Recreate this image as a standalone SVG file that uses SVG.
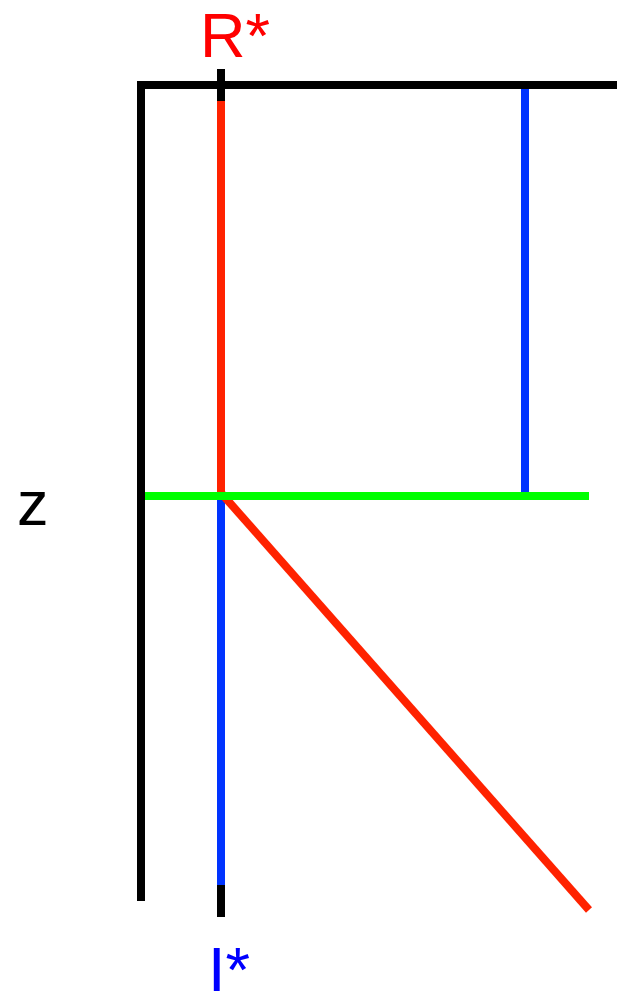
<svg xmlns="http://www.w3.org/2000/svg" width="624" height="997" viewBox="0 0 624 997">
<style>
.ln{fill:none;stroke-width:8;stroke-linecap:butt}
.t{font-family:"Liberation Sans",Arial,sans-serif;font-size:63px}
</style>
<rect width="624" height="997" fill="#fff"/>
<g id="connectors">
<polyline class="ln" stroke="#000" points="141,901 141,85 617,85"/>
<line class="ln" stroke="#000" x1="221" y1="69" x2="221" y2="102"/>
<line class="ln" stroke="#ff2200" x1="221" y1="101" x2="221" y2="493"/>
<line class="ln" stroke="#0033ff" x1="525" y1="89" x2="525" y2="493"/>
<line class="ln" stroke="#0033ff" x1="221" y1="497" x2="221" y2="886"/>
<line class="ln" stroke="#000" x1="221" y1="885" x2="221" y2="917"/>
<line class="ln" stroke="#ff2200" x1="222" y1="494" x2="589" y2="910"/>
<line class="ln" stroke="#00ff00" stroke-width="7.5" x1="145" y1="496" x2="589" y2="496"/>
</g>
<g id="label-R"><text class="t" x="200" y="57" fill="#ff0000">R*</text></g>
<g id="label-I"><text class="t" x="208" y="991" fill="#0000ff">I*</text></g>
<g id="label-z"><text class="t" x="17" y="525" fill="#000">z</text></g>
</svg>
